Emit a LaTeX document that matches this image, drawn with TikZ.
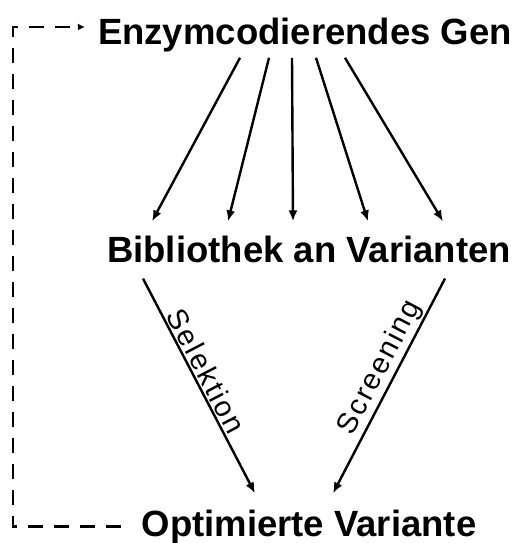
\documentclass[tikz,border=0pt]{standalone}
\usepackage{fontspec}
\setmainfont{Liberation Sans}
\newfontfamily\lblfont[LetterSpace=7]{Liberation Sans}
\usetikzlibrary{arrows.meta}
\begin{document}
\begin{tikzpicture}[x=1pt,y=-1pt,
  title/.style={font=\bfseries\fontsize{36.5}{40}\selectfont, inner sep=3pt, anchor=base},
  lbl/.style={font=\lblfont\fontsize{29}{32}\selectfont, inner sep=1.5pt},
  arr/.style={line width=2.4pt, -{Latex[length=11pt,width=9pt]}},
  fb/.style={line width=2.8pt, dash pattern=on 15pt off 11pt, -{Latex[length=7pt,width=7pt]}}]
\useasboundingbox (0,0) rectangle (527,543);
\node[title] (gen) at (305,45) {Enzymcodierendes Gen};
\node[title] (bib) at (309,262) {Bibliothek an Varianten};
\node[title] (opt) at (309,536) {Optimierte Variante};
% fan of arrows
\draw[arr] ([shift={(-65,2)}]gen.south) -- ([shift={(-157,-11)}]bib.north);
\draw[arr] ([shift={(-36,2)}]gen.south) -- ([shift={(-81,-11)}]bib.north);
\draw[arr] ([shift={(-13,2)}]gen.south) -- ([shift={(-16,-11)}]bib.north);
\draw[arr] ([shift={(11,2)}]gen.south) -- ([shift={(59,-11)}]bib.north);
\draw[arr] ([shift={(40,2)}]gen.south) -- ([shift={(134,-11)}]bib.north);
% selection / screening
\draw[arr] ([shift={(-166,13)}]bib.south) -- node[lbl, pos=0.46, sloped, above] {Selektion} ([shift={(-54,-13)}]opt.north);
\draw[arr] ([shift={(136,13)}]bib.south) -- node[lbl, pos=0.45, sloped, above] {Screening} ([shift={(24,-13)}]opt.north);
% feedback
\coordinate (lft) at (13,0);
\draw[fb] ([xshift=-17pt]opt.west) -| (lft |- 0,27) -- ([xshift=-10pt]gen.west |- 0,27);
\end{tikzpicture}
\end{document}
